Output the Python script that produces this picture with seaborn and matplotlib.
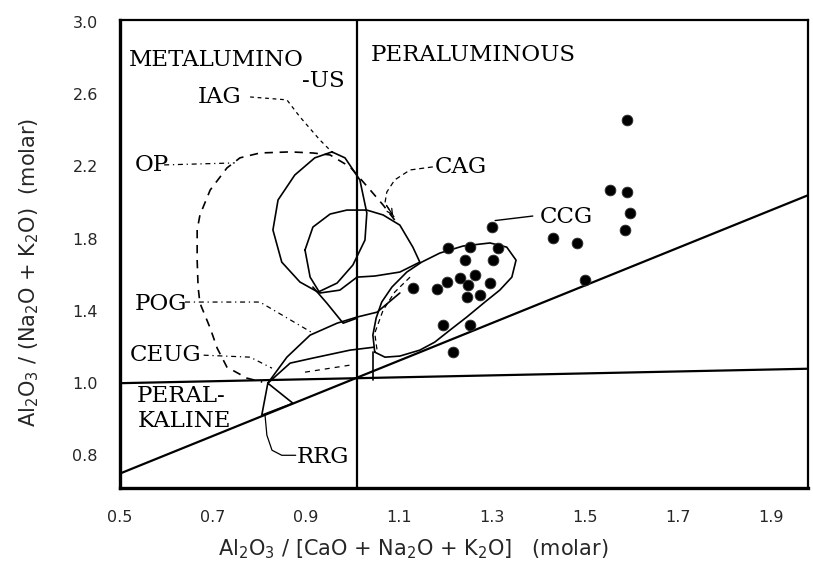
import seaborn as sns
import matplotlib.pyplot as plt

# sample points: A/CNK (x) and A/NK (y)
acnk = [1.300, 1.205, 1.253, 1.313, 1.242, 1.302, 1.263, 1.231, 1.203, 1.182,
        1.130, 1.248, 1.296, 1.246, 1.274, 1.195, 1.253, 1.216,
        1.590, 1.554, 1.590, 1.597, 1.586, 1.431, 1.483, 1.500]
ank = [1.864, 1.748, 1.753, 1.748, 1.681, 1.681, 1.598, 1.582, 1.560, 1.521,
       1.526, 1.543, 1.554, 1.476, 1.488, 1.321, 1.321, 1.172,
       2.457, 2.069, 2.058, 1.942, 1.848, 1.803, 1.776, 1.571]

x_ticks = [0.5, 0.7, 0.9, 1.1, 1.3, 1.5, 1.7, 1.9]
x_labels = ["0.5", "0.7", "0.9", "1.1", "1.3", "1.5", "1.7", "1.9"]
y_ticks = [0.6, 1.0, 1.4, 1.8, 2.2, 2.6, 3.0]
y_labels = ["0.8", "1.0", "1.4", "1.8", "2.2", "2.6", "3.0"]

# boundary lines
vline_x = [1.01, 1.01]
vline_y = [0.42, 3.01]
hline_x = [0.5, 1.98]
hline_y = [1.0, 1.08]
diag_x = [0.5, 1.98]
diag_y = [0.50, 2.04]

# field outlines
iag_x = [0.956, 0.984, 1.016, 1.031, 1.027, 1.001, 0.967, 0.926, 0.887, 0.848,
         0.829, 0.840, 0.876, 0.919, 0.956]
iag_y = [2.280, 2.247, 2.125, 1.942, 1.792, 1.654, 1.554, 1.504, 1.560, 1.670,
         1.848, 2.014, 2.152, 2.247, 2.280]
iag_tail_x = [0.915, 0.945, 0.980, 1.010]
iag_tail_y = [1.532, 1.443, 1.332, 1.360]

cag_x = [0.898, 0.915, 0.952, 0.988, 1.031, 1.066, 1.102, 1.130, 1.145, 1.102,
         1.048, 1.010, 0.973, 0.930, 0.909, 0.898]
cag_y = [1.737, 1.864, 1.936, 1.958, 1.958, 1.931, 1.875, 1.753, 1.670, 1.615,
         1.593, 1.587, 1.515, 1.499, 1.587, 1.737]

ccg_x = [1.048, 1.044, 1.051, 1.063, 1.085, 1.117, 1.149, 1.188, 1.238, 1.296,
         1.332, 1.352, 1.343, 1.317, 1.285, 1.246, 1.210, 1.177, 1.145, 1.102,
         1.070, 1.048]
ccg_y = [1.172, 1.266, 1.360, 1.449, 1.532, 1.615, 1.670, 1.720, 1.759, 1.776,
         1.753, 1.681, 1.587, 1.515, 1.449, 1.366, 1.294, 1.227, 1.183, 1.150,
         1.144, 1.172]
ccg_inner_x = [1.124, 1.091, 1.066, 1.048, 1.053]
ccg_inner_y = [1.587, 1.504, 1.404, 1.277, 1.183]

op_x = [1.091, 1.066, 1.042, 0.995, 0.952, 0.915, 0.866, 0.801, 0.758, 0.730,
        0.694, 0.672, 0.666, 0.666, 0.668, 0.672, 0.694, 0.709, 0.730, 0.773, 0.806]
op_y = [1.903, 1.986, 2.058, 2.197, 2.263, 2.274, 2.280, 2.274, 2.247, 2.191,
        2.069, 1.931, 1.848, 1.681, 1.532, 1.443, 1.305, 1.194, 1.089, 1.028, 1.006]

pog_x = [0.818, 0.859, 0.909, 0.967, 1.010, 1.053, 1.102]
pog_y = [1.000, 1.144, 1.266, 1.332, 1.366, 1.393, 1.499]

ceug_x = [0.818, 0.866, 0.915, 0.995, 1.046]
ceug_y = [1.000, 1.111, 1.139, 1.183, 1.199]
ceug_inner_x = [0.898, 0.995]
ceug_inner_y = [1.061, 1.100]
stub_x = [1.044, 1.044]
stub_y = [1.17, 1.02]

rrg_x = [0.818, 0.872, 0.805, 0.818]
rrg_y = [1.000, 0.889, 0.823, 1.000]

# leader lines
iag_lead_x = [0.780, 0.859, 0.887, 0.930, 0.958]
iag_lead_y = [2.584, 2.568, 2.474, 2.346, 2.274]
op_lead_x = [0.595, 0.747]
op_lead_y = [2.208, 2.219]
cag_lead_x = [1.173, 1.124, 1.091, 1.074, 1.070, 1.091]
cag_lead_y = [2.197, 2.180, 2.125, 2.058, 1.997, 1.914]
ccg_lead_x = [1.307, 1.388]
ccg_lead_y = [1.900, 1.925]
pog_lead_x = [0.640, 0.801, 0.915]
pog_lead_y = [1.449, 1.449, 1.277]
ceug_lead_x = [0.680, 0.780, 0.827]
ceug_lead_y = [1.155, 1.144, 1.083]
rrg_lead_x = [0.812, 0.816, 0.827, 0.848, 0.878]
rrg_lead_y = [0.823, 0.712, 0.629, 0.601, 0.601]

sns.set_style("white")
plt.rcParams['font.family'] = ['DejaVu Sans']

fig = plt.figure(figsize=(8.13, 5.76), dpi=100)
ax = fig.add_axes([0.1476, 0.1528, 0.8462, 0.8125])


def trace(xs, ys, ls="-", lw=1.2):
    sns.lineplot(x=xs, y=ys, sort=False, estimator=None, ax=ax,
                 color="black", linestyle=ls, linewidth=lw)


trace(vline_x, vline_y, lw=1.6)
trace(hline_x, hline_y, lw=1.6)
trace(diag_x, diag_y, lw=1.6)

trace(iag_x, iag_y)
trace(iag_tail_x, iag_tail_y)
trace(cag_x, cag_y)
trace(ccg_x, ccg_y)
trace(ccg_inner_x, ccg_inner_y, ls=(0, (4, 3)), lw=0.9)
trace(op_x, op_y, ls=(0, (5, 4)))
trace(pog_x, pog_y)
trace(ceug_x, ceug_y)
trace(ceug_inner_x, ceug_inner_y, ls=(0, (4, 4)), lw=0.9)
trace(stub_x, stub_y)
trace(rrg_x, rrg_y)

trace(iag_lead_x, iag_lead_y, ls=(0, (3, 3)), lw=0.9)
trace(op_lead_x, op_lead_y, ls=(0, (4, 3, 1, 3)), lw=0.9)
trace(cag_lead_x, cag_lead_y, ls=(0, (4, 3)), lw=0.9)
ax.annotate("", xy=(cag_lead_x[-1], cag_lead_y[-1]),
            xytext=(cag_lead_x[-2], cag_lead_y[-2]),
            arrowprops=dict(arrowstyle="->", lw=0.9, color="black"))
trace(ccg_lead_x, ccg_lead_y, lw=1.0)
trace(pog_lead_x, pog_lead_y, ls=(0, (4, 3, 1, 3)), lw=0.9)
trace(ceug_lead_x, ceug_lead_y, ls=(0, (4, 3, 1, 3)), lw=0.9)
trace(rrg_lead_x, rrg_lead_y, lw=0.9)

sns.scatterplot(x=acnk, y=ank, ax=ax, color="black", s=60,
                edgecolor="#333333", linewidth=0.6, zorder=5)

# field and region labels
lab = dict(family="DejaVu Serif", fontsize=16.5, color="black", va="center")
ax.text(0.520, 2.789, "METALUMINO", **lab)
ax.text(0.984, 2.673, "-US", ha="right", **lab)
ax.text(1.040, 2.817, "PERALUMINOUS", **lab)
ax.text(0.668, 2.584, "IAG", **lab)
ax.text(0.532, 2.208, "OP", **lab)
ax.text(1.177, 2.197, "CAG", **lab)
ax.text(1.403, 1.920, "CCG", **lab)
ax.text(0.532, 1.438, "POG", **lab)
ax.text(0.522, 1.155, "CEUG", **lab)
ax.text(0.535, 0.928, "PERAL-", **lab)
ax.text(0.538, 0.789, "KALINE", **lab)
ax.text(0.881, 0.590, "RRG", **lab)

ax.set_xlim(0.5, 1.98)
ax.set_ylim(0.42, 3.01)
ax.set_xticks(x_ticks)
ax.set_xticklabels(x_labels)
ax.set_yticks(y_ticks)
ax.set_yticklabels(y_labels)
ax.tick_params(length=0, labelsize=11.5, pad=16)

ax.set_xlabel("Al$_2$O$_3$ / [CaO + Na$_2$O + K$_2$O]   (molar)", fontsize=15)
ax.set_ylabel("Al$_2$O$_3$ / (Na$_2$O + K$_2$O)  (molar)", fontsize=15)
ax.xaxis.set_label_coords(0.426, -0.105)
ax.yaxis.set_label_coords(-0.115, 0.46)

for side in ["left", "bottom"]:
    ax.spines[side].set_linewidth(2.4)
for side in ["top", "right"]:
    ax.spines[side].set_linewidth(1.6)
for spine in ax.spines.values():
    spine.set_color("black")

fig.savefig("out.png", dpi=100)
